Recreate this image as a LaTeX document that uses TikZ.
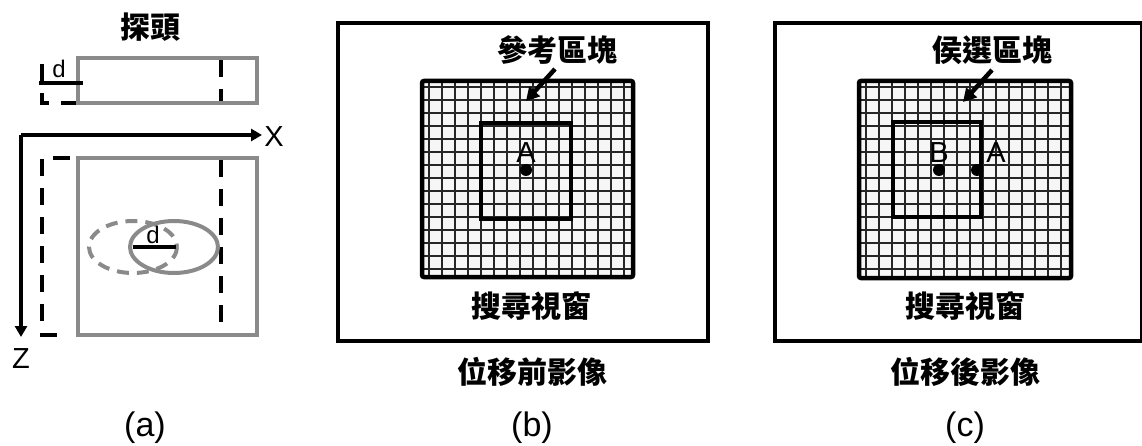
\documentclass[tikz,border=0pt]{standalone}
\usepackage{fontspec}
\setmainfont{Liberation Sans}
\newfontfamily\cjk{Noto Sans CJK TC}
\usetikzlibrary{arrows.meta}
\definecolor{probegray}{HTML}{8A8A8A}
\definecolor{gridfill}{HTML}{F6F6F6}
\begin{document}
\begin{tikzpicture}[x=1pt,y=-1pt,
  frame/.style={line width=4.5pt, draw=black},
  blockframe/.style={line width=4.5pt, draw=black, rounded corners=2pt},
  gridline/.style={line width=1.8pt, draw=black!85},
  cjklbl/.style={font=\cjk\bfseries\fontsize{30}{31}\selectfont, inner sep=0pt, anchor=center},
  latlbl/.style={font=\fontsize{29}{30}\selectfont, inner sep=0pt, anchor=center},
  caplbl/.style={font=\fontsize{34}{36}\selectfont, inner sep=0pt, anchor=center},
  dlbl/.style={font=\fontsize{24}{25}\selectfont, inner sep=0pt, anchor=center},
  probe/.style={line width=4pt, draw=probegray},
  probedash/.style={line width=4pt, draw=probegray, dash pattern=on 12pt off 8pt},
  shiftdash/.style={line width=4.5pt, draw=black, dash pattern=on 17pt off 12pt},
  dline/.style={line width=4pt, draw=black},
  axis/.style={line width=3.5pt, draw=black, -{Triangle[length=11pt,width=12pt]}},
  ptr/.style={line width=4.5pt, draw=black, -{Triangle[length=13pt,width=14pt]}},
  dot/.style={circle, fill=black, inner sep=0pt, minimum size=12pt}
]
\useasboundingbox (0,0) rectangle (1142,446);
\clip (0,0) rectangle (1142,446);

% ---------------- panel (a) ----------------
\node[cjklbl] (probelbl) at (150,27) {探頭};
% top (probe seen from above)
\draw[shiftdash] (78,103) -- (42,103) -- (42,60);
\draw[shiftdash] (221,60) -- (221,103);
\draw[probe] (78,58) rectangle (257,103);
\node[dlbl] (dtop) at (59,69) {d};
\coordinate (dtopl) at (39,83);
\coordinate (dtopr) at (83,83);
\draw[dline] (dtopl) -- (dtopr);
% axes
\coordinate (axo) at (21,135);
\coordinate (axx) at (262,135);
\coordinate (axz) at (21,337);
\draw[axis] (axo) -- (axx);
\draw[axis] (axo) -- (axz);
\node[latlbl] (xlbl) at (274,137) {X};
\node[latlbl] (zlbl) at (21,359) {Z};
% lower rectangle
\draw[shiftdash] (70,158) -- (42,158) -- (42,335) -- (66,335);
\draw[shiftdash] (221,160) -- (221,326);
\draw[probe] (78,158) rectangle (257,335);
\draw[probedash] (133,247) ellipse [x radius=44, y radius=26];
\draw[probe] (174,247) ellipse [x radius=44, y radius=26];
\node[dlbl] (dlow) at (153,235) {d};
\coordinate (dlowl) at (133,247);
\coordinate (dlowr) at (176,247);
\draw[dline] (dlowl) -- (dlowr);
\node[caplbl] (capa) at (145,428) {(a)};

% ---------------- panel (b) ----------------
\draw[frame] (338,23) rectangle (708,341);
\fill[gridfill] (422,81) rectangle (633,277);
\begin{scope}
  \clip (422,81) rectangle (633,277);
  \foreach \i in {0,...,15} \draw[gridline] (429+13*\i,81) -- (429+13*\i,277);
  \foreach \j in {0,...,14} \draw[gridline] (422,87+13*\j) -- (633,87+13*\j);
\end{scope}
\draw[blockframe] (422,81) rectangle (633,277);
\draw[frame] (481,123) rectangle (571,219);
\node[dot] (ptAb) at (526,170) {};
\node[latlbl] (lblAb) at (526,153) {A};
\node[cjklbl] (refblk) at (557,50) {參考區塊};
\coordinate (refs) at (555,69);
\coordinate (reft) at (526,101);
\draw[ptr] (refs) -- (reft);
\node[cjklbl] (winb) at (531,306) {搜尋視窗};
\node[cjklbl] (imgb) at (532,372) {位移前影像};
\node[caplbl] (capb) at (532,428) {(b)};

% ---------------- panel (c) ----------------
\draw[frame] (775,23) rectangle (1142,341);
\fill[gridfill] (859,81) rectangle (1071,278);
\begin{scope}
  \clip (859,81) rectangle (1071,278);
  \foreach \i in {0,...,15} \draw[gridline] (866+13*\i,81) -- (866+13*\i,278);
  \foreach \j in {0,...,14} \draw[gridline] (859,87+13*\j) -- (1071,87+13*\j);
\end{scope}
\draw[blockframe] (859,81) rectangle (1071,278);
\draw[frame] (893,122) rectangle (981,217);
\node[dot] (ptB) at (939,170) {};
\node[dot] (ptAc) at (977,170) {};
\node[latlbl] (lblB) at (939,153) {B};
\node[latlbl] (lblAc) at (996,153) {A};
\node[cjklbl] (candblk) at (992,50) {侯選區塊};
\coordinate (cands) at (992,70);
\coordinate (candt) at (963,102);
\draw[ptr] (cands) -- (candt);
\node[cjklbl] (winc) at (965,306) {搜尋視窗};
\node[cjklbl] (imgc) at (965,372) {位移後影像};
\node[caplbl] (capc) at (965,428) {(c)};
\end{tikzpicture}
\end{document}
